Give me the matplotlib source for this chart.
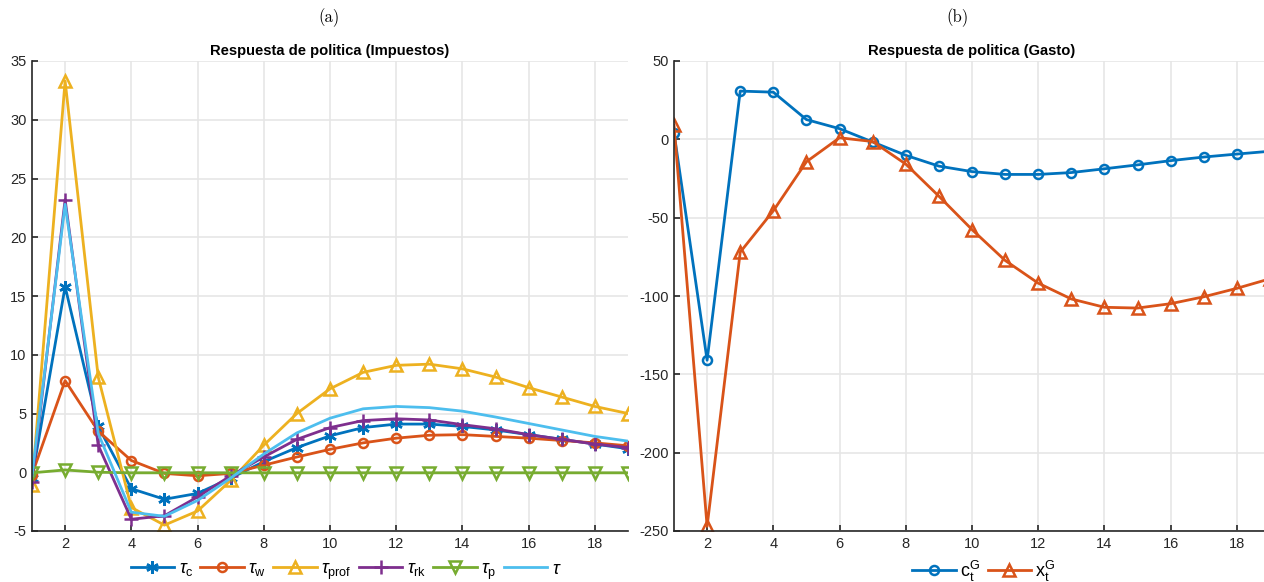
import numpy as np
import matplotlib
matplotlib.use("Agg")
from matplotlib import pyplot as plt

# horizonte
periods = np.arange(1, 20)

# panel (a): respuesta de politica, impuestos
tau_c = [-0.5, 15.8, 3.9, -1.4, -2.3, -1.8, -0.5, 0.9, 2.1, 3.1, 3.8, 4.1, 4.1, 3.9, 3.6, 3.2, 2.8, 2.4, 2.0]
tau_w = [-0.2, 7.8, 3.5, 1.0, -0.1, -0.3, -0.1, 0.6, 1.3, 1.95, 2.5, 2.9, 3.15, 3.2, 3.05, 2.9, 2.7, 2.5, 2.25]
tau_prof = [-1.1, 33.3, 8.1, -3.0, -4.5, -3.3, -0.7, 2.3, 5.0, 7.1, 8.5, 9.1, 9.2, 8.8, 8.1, 7.2, 6.4, 5.6, 5.0]
tau_rk = [-0.8, 23.2, 2.3, -4.0, -3.7, -2.1, -0.3, 1.3, 2.8, 3.8, 4.4, 4.55, 4.45, 4.05, 3.7, 3.2, 2.8, 2.4, 2.1]
tau_p = [-0.05, 0.2, 0.0, -0.05, -0.05, -0.05, -0.05, -0.05, -0.05, -0.05, -0.05, -0.05, -0.05, -0.05, -0.05, -0.05, -0.05, -0.05, -0.05]
tau = [-0.3, 22.8, 3.3, -3.4, -3.75, -2.4, -0.5, 1.55, 3.35, 4.6, 5.4, 5.6, 5.5, 5.2, 4.7, 4.15, 3.6, 3.05, 2.65]

# panel (b): respuesta de politica, gasto
c_G = [4.3, -141, 30.8, 30.1, 12.6, 6.8, -1.7, -10.2, -17.1, -20.6, -22.4, -22.4, -21.2, -18.8, -16.3, -13.6, -11.3, -9.4, -7.6]
x_G = [9.0, -247, -72, -45.6, -14.3, 1.0, -1.4, -15.8, -36.3, -57.6, -77.3, -91.8, -101.9, -107.2, -107.7, -104.9, -100.5, -95.1, -89.0]

labels_a = [r"$\tau_{\mathrm{c}}$", r"$\tau_{\mathrm{w}}$", r"$\tau_{\mathrm{prof}}$",
            r"$\tau_{\mathrm{rk}}$", r"$\tau_{\mathrm{p}}$", r"$\tau$"]
labels_b = [r"$\mathrm{c}_\mathrm{t}^\mathrm{G}$", r"$\mathrm{x}_\mathrm{t}^\mathrm{G}$"]

C = ["#0072BD", "#D95319", "#EDB120", "#7E2F8E", "#77AC30", "#4DBEEE"]

plt.rcParams["font.family"] = ["Liberation Sans", "DejaVu Sans"]
plt.rcParams["mathtext.fontset"] = "custom"
plt.rcParams["mathtext.rm"] = "Liberation Sans"
plt.rcParams["mathtext.it"] = "Liberation Sans:italic"
plt.rcParams["axes.unicode_minus"] = False

W, H = 1264, 582
fig = plt.figure(figsize=(W / 100, H / 100), dpi=100)


def style_axes(ax: plt.Axes):
    for s in ("top", "right"):
        ax.spines[s].set_visible(False)
    for s in ("left", "bottom"):
        ax.spines[s].set_color("#262626")
        ax.spines[s].set_linewidth(1.2)
    ax.tick_params(direction="in", length=4, width=1.2, colors="#262626",
                   labelsize=10.5, top=False, right=False, pad=4)
    ax.grid(True, color="#e6e6e6", linewidth=1.2)
    ax.set_axisbelow(True)
    ax.set_xticks(np.arange(2, 19, 2))


# --- panel (a)
ax1 = fig.add_axes([32 / W, 1 - 531 / H, 596 / W, 470 / H])
style_axes(ax1)
mk = dict(markerfacecolor="none", markeredgewidth=1.8, linewidth=2.0)
ax1.plot(periods, tau_c, color=C[0], marker=(6, 2, 0), markersize=9, label=labels_a[0], **mk)
ax1.plot(periods, tau_w, color=C[1], marker="o", markersize=6.5, label=labels_a[1], **mk)
ax1.plot(periods, tau_prof, color=C[2], marker="^", markersize=8, label=labels_a[2], **mk)
ax1.plot(periods, tau_rk, color=C[3], marker="+", markersize=10, label=labels_a[3], **mk)
ax1.plot(periods, tau_p, color=C[4], marker="v", markersize=8, label=labels_a[4], **mk)
ax1.plot(periods, tau, color=C[5], linewidth=2.0, label=labels_a[5])
ax1.set_xlim(1, 19)
ax1.set_ylim(-5, 35)
ax1.set_yticks(np.arange(-5, 36, 5))
ax1.set_title("Respuesta de politica (Impuestos)", fontsize=10.6, fontweight="bold", pad=4)
fig.legend(handles=ax1.get_lines(), loc="center", bbox_to_anchor=(346 / W, 1 - 571 / H),
           ncols=6, frameon=False, fontsize=13, handlelength=2.4, handletextpad=0.25,
           columnspacing=0.4, borderpad=0)
fig.text(329 / W, 1 - 18 / H, "(a)", ha="center", va="center", family="cmr10", fontsize=12)

# --- panel (b), recortado a la derecha como en la figura original
ax2 = fig.add_axes([674 / W, 1 - 531 / H, 596 / W, 470 / H])
style_axes(ax2)
ax2.plot(periods, c_G, color=C[0], marker="o", markersize=6.5, label=labels_b[0], **mk)
ax2.plot(periods, x_G, color=C[1], marker="^", markersize=8, label=labels_b[1], **mk)
ax2.set_xlim(1, 19)
ax2.set_ylim(-250, 50)
ax2.set_yticks(np.arange(-250, 51, 50))
ax2.set_title("Respuesta de politica (Gasto)", fontsize=10.6, fontweight="bold", pad=4)
fig.legend(handles=ax2.get_lines(), loc="center", bbox_to_anchor=(984 / W, 1 - 571 / H),
           ncols=2, frameon=False, fontsize=13, handlelength=2.4, handletextpad=0.25,
           columnspacing=0.4, borderpad=0)
fig.text(957 / W, 1 - 18 / H, "(b)", ha="center", va="center", family="cmr10", fontsize=12)

fig.savefig("out.png", dpi=100)
